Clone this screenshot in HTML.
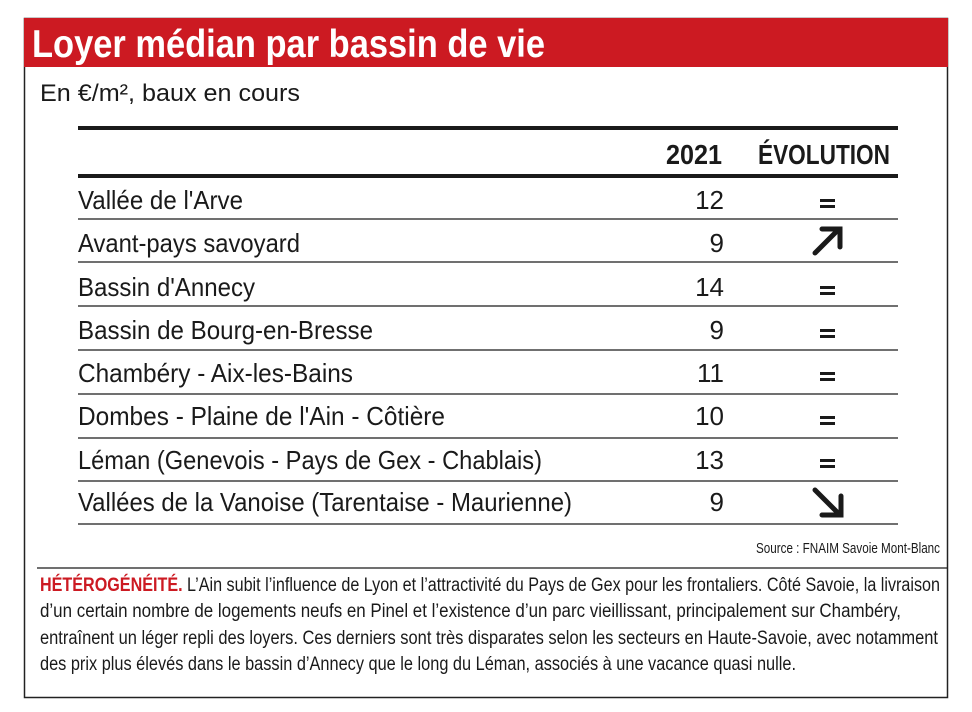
<!DOCTYPE html>
<html><head><meta charset="utf-8"><style>
html,body{margin:0;padding:0;background:#fff;}
svg{display:block;}
text{font-family:"Liberation Sans",sans-serif;fill:#1a1a1a;}
</style></head><body>
<svg width="972" height="712" viewBox="0 0 972 712" xmlns="http://www.w3.org/2000/svg">
<rect x="24.5" y="18.5" width="923" height="679" fill="#fff" stroke="#222" stroke-width="1.5"/>
<rect x="24" y="18" width="924" height="49" fill="#cc1a22"/>
<text x="32" y="57" font-size="39" font-weight="bold" style="fill:#fff" textLength="513" lengthAdjust="spacingAndGlyphs">Loyer médian par bassin de vie</text>
<text x="40" y="101" font-size="24" textLength="260" lengthAdjust="spacingAndGlyphs">En €/m², baux en cours</text>
<rect x="78" y="126" width="820" height="4" fill="#1a1a1a"/>
<text x="666" y="164" font-size="28" font-weight="bold" textLength="56" lengthAdjust="spacingAndGlyphs">2021</text>
<text x="758" y="164" font-size="28" font-weight="bold" textLength="132" lengthAdjust="spacingAndGlyphs">ÉVOLUTION</text>
<rect x="78" y="174" width="820" height="4" fill="#1a1a1a"/>
<g stroke="#1a1a1a" stroke-width="1.2">
<line x1="78" y1="219" x2="898" y2="219"/><line x1="78" y1="262" x2="898" y2="262"/>
<line x1="78" y1="306" x2="898" y2="306"/><line x1="78" y1="350" x2="898" y2="350"/>
<line x1="78" y1="394" x2="898" y2="394"/><line x1="78" y1="438" x2="898" y2="438"/>
<line x1="78" y1="481" x2="898" y2="481"/><line x1="78" y1="524" x2="898" y2="524"/>
</g>
<g font-size="26">
<text x="78" y="209" textLength="165" lengthAdjust="spacingAndGlyphs">Vallée de l'Arve</text>
<text x="78" y="252" textLength="222" lengthAdjust="spacingAndGlyphs">Avant-pays savoyard</text>
<text x="78" y="296" textLength="177" lengthAdjust="spacingAndGlyphs">Bassin d'Annecy</text>
<text x="78" y="339" textLength="295" lengthAdjust="spacingAndGlyphs">Bassin de Bourg-en-Bresse</text>
<text x="78" y="382" textLength="275" lengthAdjust="spacingAndGlyphs">Chambéry - Aix-les-Bains</text>
<text x="78" y="425" textLength="367" lengthAdjust="spacingAndGlyphs">Dombes - Plaine de l'Ain - Côtière</text>
<text x="78" y="469" textLength="464" lengthAdjust="spacingAndGlyphs">Léman (Genevois - Pays de Gex - Chablais)</text>
<text x="78" y="511" textLength="494" lengthAdjust="spacingAndGlyphs">Vallées de la Vanoise (Tarentaise - Maurienne)</text>
</g>
<g font-size="26" text-anchor="end">
<text x="724" y="209">12</text><text x="724" y="252">9</text><text x="724" y="296">14</text>
<text x="724" y="339">9</text><text x="724" y="382">11</text><text x="724" y="425">10</text>
<text x="724" y="469">13</text><text x="724" y="511">9</text>
</g>
<g fill="#1a1a1a">
<rect x="820" y="199" width="15" height="3"/><rect x="820" y="205" width="15" height="3"/>
<rect x="820" y="286" width="15" height="3"/><rect x="820" y="292" width="15" height="3"/>
<rect x="820" y="329" width="15" height="3"/><rect x="820" y="335" width="15" height="3"/>
<rect x="820" y="372" width="15" height="3"/><rect x="820" y="378" width="15" height="3"/>
<rect x="820" y="416" width="15" height="3"/><rect x="820" y="422" width="15" height="3"/>
<rect x="820" y="459" width="15" height="3"/><rect x="820" y="465" width="15" height="3"/>
</g>
<g stroke="#1a1a1a" stroke-width="5" fill="none" stroke-linecap="round" stroke-linejoin="miter">
<line x1="815" y1="253" x2="838" y2="230"/><polyline points="822,229 840,229 840,247"/>
<line x1="815" y1="490" x2="838" y2="513"/><polyline points="822,515 841,515 841,496"/>
</g>
<text x="940" y="553" font-size="15" text-anchor="end" textLength="184" lengthAdjust="spacingAndGlyphs">Source : FNAIM Savoie Mont-Blanc</text>
<line x1="37" y1="568" x2="947" y2="568" stroke="#1a1a1a" stroke-width="1.2"/>
<g font-size="19">
<text x="40" y="591" textLength="900" lengthAdjust="spacingAndGlyphs"><tspan font-weight="bold" style="fill:#cc1a22">HÉTÉROGÉNÉITÉ.</tspan> L’Ain subit l’influence de Lyon et l’attractivité du Pays de Gex pour les frontaliers. Côté Savoie, la livraison</text>
<text x="40" y="617" textLength="861" lengthAdjust="spacingAndGlyphs">d’un certain nombre de logements neufs en Pinel et l’existence d’un parc vieillissant, principalement sur Chambéry,</text>
<text x="40" y="644" textLength="898" lengthAdjust="spacingAndGlyphs">entraînent un léger repli des loyers. Ces derniers sont très disparates selon les secteurs en Haute-Savoie, avec notamment</text>
<text x="40" y="670" textLength="756" lengthAdjust="spacingAndGlyphs">des prix plus élevés dans le bassin d’Annecy que le long du Léman, associés à une vacance quasi nulle.</text>
</g>
</svg>
</body></html>
